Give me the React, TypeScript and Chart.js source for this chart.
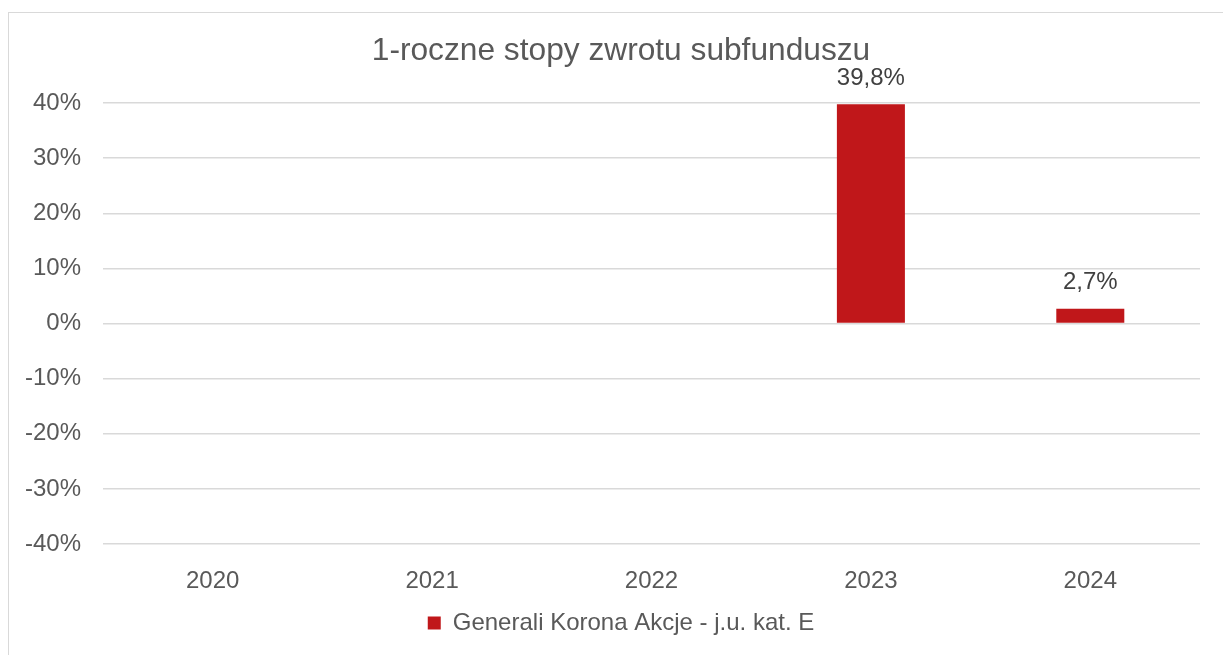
import React, { useEffect, useRef } from "react";
import { Chart, registerables } from "chart.js";

Chart.register(...registerables);

const chartTitle = "1-roczne stopy zwrotu subfunduszu";
const categories = ["2020", "2021", "2022", "2023", "2024"];
const seriesName = "Generali Korona Akcje - j.u. kat. E";
const seriesValues: (number | null)[] = [null, null, null, 39.8, 2.7];
const yMin = -40;
const yMax = 40;
const yStep = 10;

const FONT = "'Liberation Sans', Arial, Helvetica, sans-serif";
const W = 1224;
const H = 660;

const dataLabelPlugin = {
  id: "dataLabels",
  afterDatasetsDraw(chart: any) {
    const ctx = chart.ctx;
    chart.data.datasets.forEach((ds: any, di: number) => {
      const meta = chart.getDatasetMeta(di);
      meta.data.forEach((el: any, i: number) => {
        const v = ds.data[i];
        if (v === null || v === undefined) return;
        ctx.save();
        ctx.font = `24px ${FONT}`;
        ctx.fillStyle = "#404040";
        ctx.textAlign = "center";
        ctx.textBaseline = "middle";
        const txt = v.toFixed(1).replace(".", ",") + "%";
        ctx.fillText(txt, el.x, el.y - 26);
        ctx.restore();
      });
    });
  },
};

export default function App() {
  const ref = useRef<HTMLCanvasElement | null>(null);
  useEffect(() => {
    document.documentElement.style.overflow = "hidden";
    const canvas = ref.current;
    if (!canvas) return;
    const chart = new Chart(canvas, {
      type: "bar",
      data: {
        labels: categories,
        datasets: [
          {
            label: seriesName,
            data: seriesValues,
            backgroundColor: "#C0171A",
            borderWidth: 0,
            barPercentage: 0.31,
            categoryPercentage: 1,
          },
        ],
      },
      options: {
        responsive: false,
        animation: false,
        devicePixelRatio: 1,
        layout: { padding: { left: 0, right: 0, top: 0, bottom: 28 } },
        plugins: {
          title: {
            display: true,
            text: chartTitle,
            color: "#595959",
            font: { family: FONT, size: 31.7, weight: "normal" as any, lineHeight: 1.2 },
            padding: { top: 19, bottom: 33 },
          },
          legend: {
            display: true,
            position: "bottom",
            labels: {
              color: "#595959",
              font: { family: FONT, size: 24 },
              boxWidth: 13,
              boxHeight: 13,
              padding: 10,
            },
          },
          tooltip: { enabled: false },
        },
        scales: {
          x: {
            grid: { display: false },
            border: { display: false },
            ticks: {
              color: "#595959",
              font: { family: FONT, size: 24, lineHeight: 1.2 },
              padding: 15,
              maxRotation: 0,
            },
            afterFit: (s: any) => {
              s.height = 57;
            },
          },
          y: {
            min: yMin,
            max: yMax,
            grid: { color: "#d9d9d9", lineWidth: 1.5, drawTicks: false },
            border: { display: false },
            ticks: {
              stepSize: yStep,
              color: "#595959",
              font: { family: FONT, size: 24 },
              padding: 22,
              callback: (v: any) => `${v}%`,
            },
            afterFit: (s: any) => {
              s.width = 94;
            },
          },
          yRight: {
            position: "right",
            display: true,
            grid: { display: false },
            border: { display: false },
            ticks: { display: false },
            afterFit: (s: any) => {
              s.width = 33;
            },
          },
        },
      },
      plugins: [dataLabelPlugin],
    });
    return () => chart.destroy();
  }, []);

  return (
    <div style={{ position: "fixed", left: 8, top: 0, right: 0, bottom: 0, overflow: "hidden" }}>
      <div
        style={{
          position: "absolute",
          left: 0,
          top: 12,
          width: W,
          height: H,
          border: "1px solid #d9d9d9",
          background: "#fff",
        }}
      >
        <canvas ref={ref} width={W} height={H} style={{ display: "block", width: W, height: H }} />
      </div>
    </div>
  );
}
